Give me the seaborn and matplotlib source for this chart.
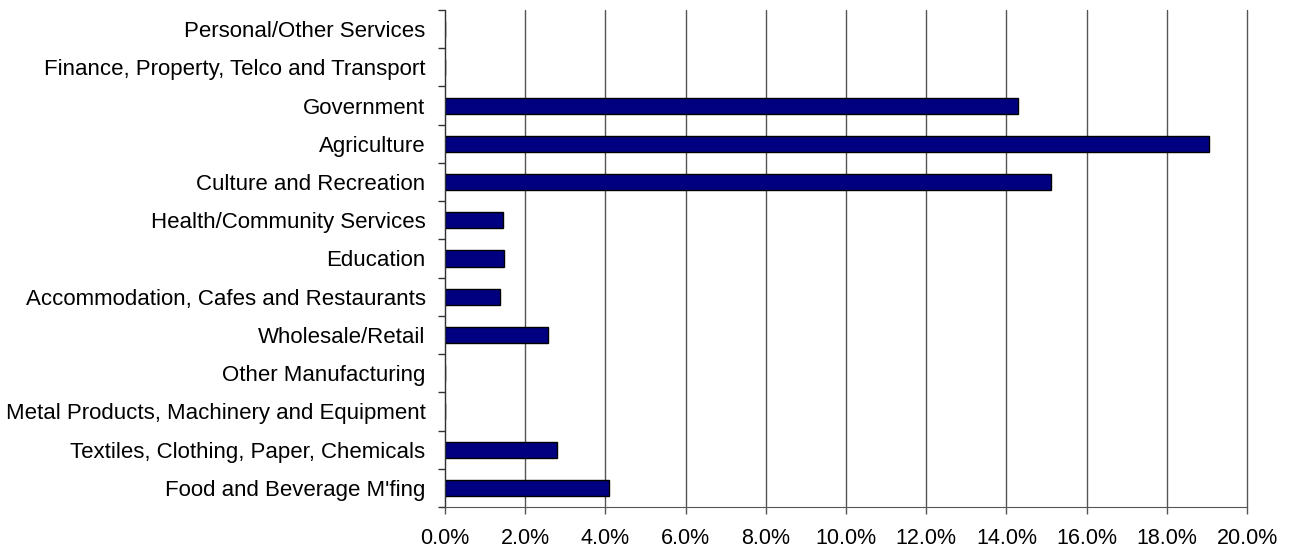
import matplotlib
matplotlib.use("Agg")
import matplotlib.pyplot as plt
import matplotlib.ticker as mticker
import seaborn as sns
import pandas as pd
import numpy as np

sectors = [
    "Personal/Other Services",
    "Finance, Property, Telco and Transport",
    "Government",
    "Agriculture",
    "Culture and Recreation",
    "Health/Community Services",
    "Education",
    "Accommodation, Cafes and Restaurants",
    "Wholesale/Retail",
    "Other Manufacturing",
    "Metal Products, Machinery and Equipment",
    "Textiles, Clothing, Paper, Chemicals",
    "Food and Beverage M'fing",
]
shares = [0.0, 0.0, 14.3, 19.05, 15.1, 1.44, 1.47, 1.36, 2.58, 0.0, 0.0, 2.79, 4.08]
x_ticks = [0, 2, 4, 6, 8, 10, 12, 14, 16, 18, 20]

df = pd.DataFrame({"sector": sectors, "share": shares})

sns.set_style("white")
plt.rcParams["font.family"] = ["Liberation Sans", "DejaVu Sans"]
plt.rcParams["text.color"] = "black"
plt.rcParams["xtick.labelcolor"] = "black"
plt.rcParams["ytick.labelcolor"] = "black"

fig = plt.figure(figsize=(12.93, 5.54), dpi=100)
ax = fig.add_axes([445 / 1293, 47 / 554, 802 / 1293, 497 / 554])

sns.barplot(data=df, x="share", y="sector", order=sectors, orient="h",
            color="#000080", saturation=1, width=0.42,
            edgecolor="black", linewidth=1, ax=ax)

ax.set_xlim(0, 20)
ax.set_ylim(len(sectors) - 0.5, -0.5)
ax.set_xticks(x_ticks)
ax.xaxis.set_major_formatter(mticker.FuncFormatter(lambda v, p: f"{v:.1f}%"))
ax.grid(axis="x", color="#555555", linewidth=1)
ax.set_axisbelow(True)
for gl in ax.get_xgridlines():
    gl.set_clip_on(False)

# ticks between categories on the y axis
ax.set_yticks(np.arange(len(sectors) + 1) - 0.5, minor=True)
ax.tick_params(axis="y", which="major", length=0, labelsize=16, pad=14)
ax.tick_params(axis="y", which="minor", length=5, width=1, color="#333333", direction="out", left=True)
ax.tick_params(axis="x", which="major", length=5, width=1, color="#555555", direction="out",
               bottom=True, labelsize=15.5, pad=10)

ax.set_xlabel("")
ax.set_ylabel("")
for s in ["top", "right"]:
    ax.spines[s].set_visible(False)
ax.spines["left"].set_color("#333333")
ax.spines["bottom"].set_color("#555555")

fig.savefig("out.png", dpi=100)
